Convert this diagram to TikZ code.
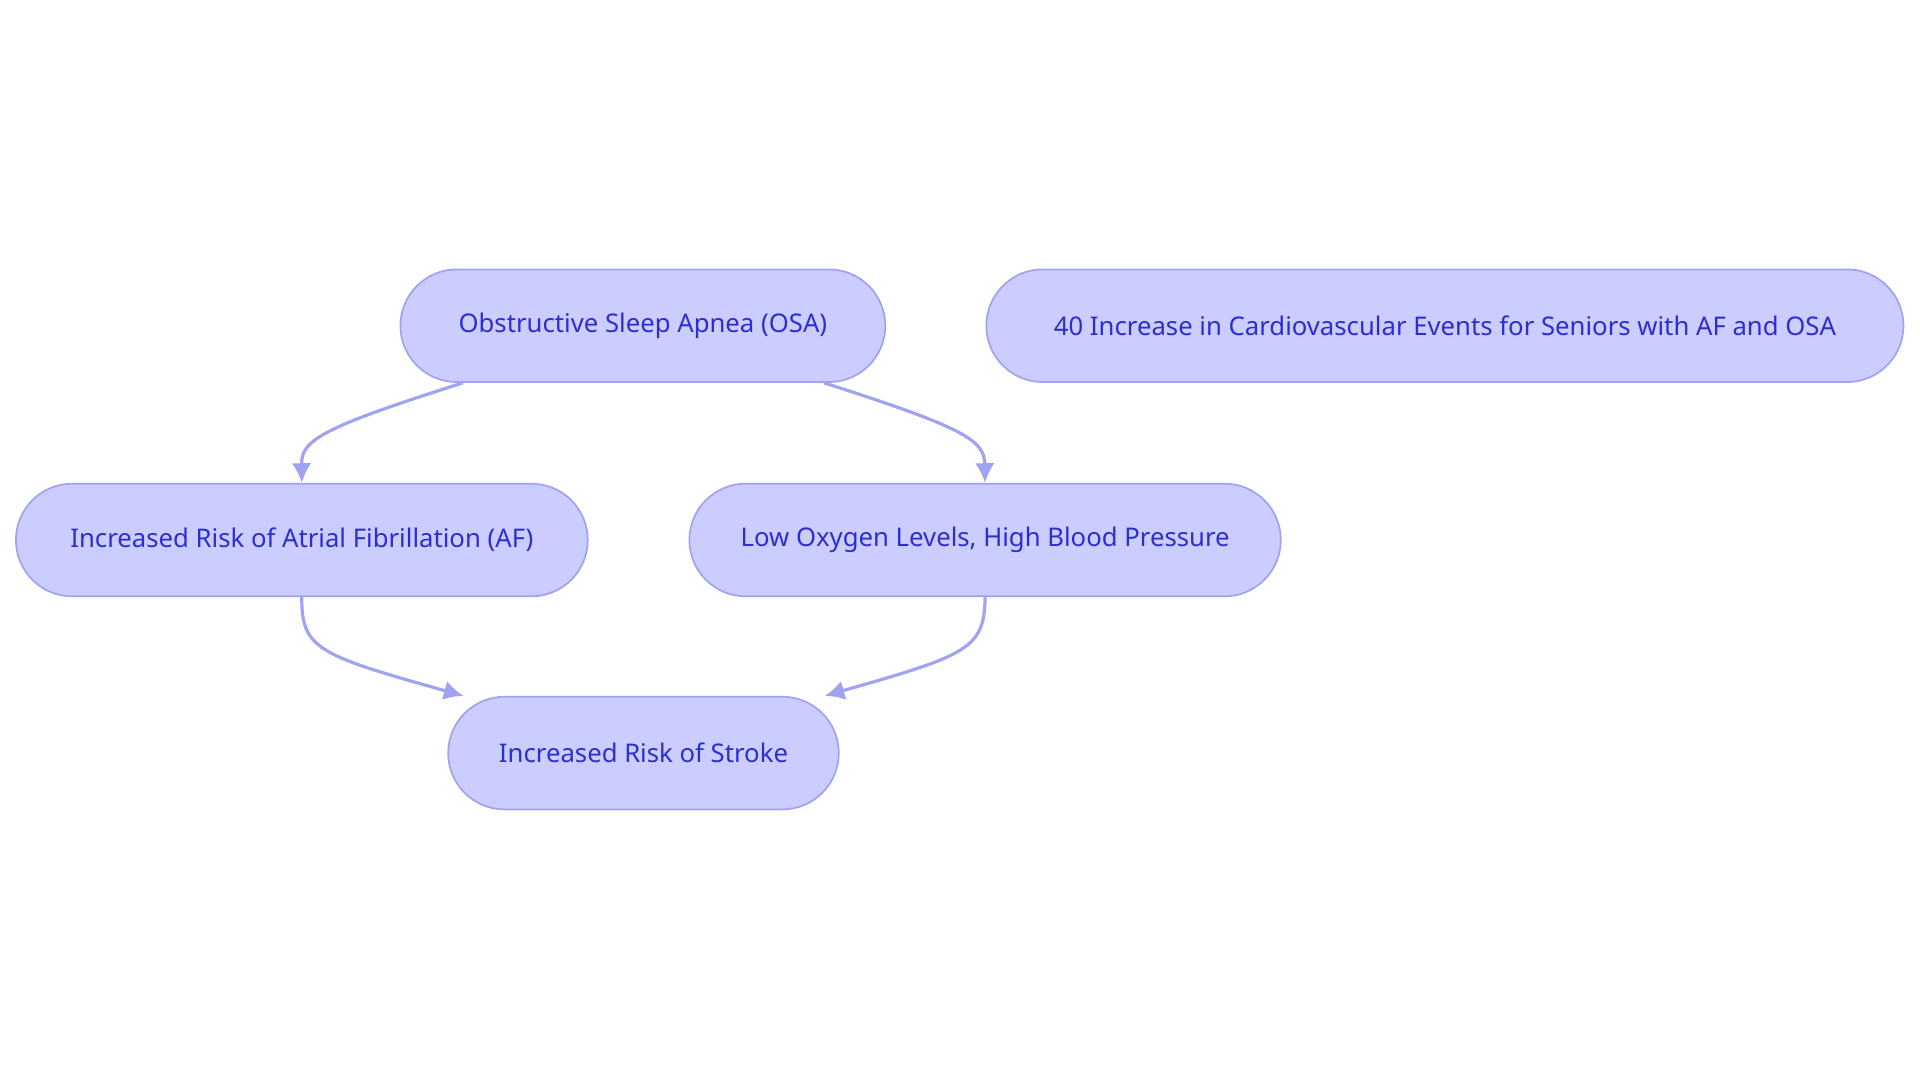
\documentclass[tikz,border=0pt]{standalone}
\usepackage{fontspec}
\setmainfont{Noto Sans}
\usetikzlibrary{calc,arrows.meta}
\definecolor{nfill}{HTML}{CBCCFF}
\definecolor{nline}{HTML}{A0A3F0}
\definecolor{ntext}{HTML}{2B2FCF}
\tikzset{box/.style={draw=nline,fill=nfill,line width=0.7pt,rounded corners=23pt,minimum height=46pt,inner sep=0pt,text=ntext,font=\fontsize{10.5}{12}\selectfont},
conn/.style={draw=nline,line width=1.3pt,-{Latex[length=8pt,width=8pt]}}}
\begin{document}
\begin{tikzpicture}[x=0.5pt,y=-0.5pt]
\useasboundingbox (0,0) rectangle (1568,884);
\node[box,minimum width=198pt] (osa) at (525,266) {Obstructive Sleep Apnea (OSA)};
\node[box,minimum width=374.5pt] (ev) at (1180,266) {40 Increase in Cardiovascular Events for Seniors with AF and OSA};
\node[box,minimum width=233.5pt] (af) at (246.5,441) {Increased Risk of Atrial Fibrillation (AF)};
\node[box,minimum width=241.5pt] (low) at (804.5,441) {Low Oxygen Levels, High Blood Pressure};
\node[box,minimum width=159.5pt] (st) at (525.5,615) {Increased Risk of Stroke};
\draw[conn] ($(osa.south)+(-147,0)$) .. controls (260,350) and (246,360) .. (af.north);
\draw[conn] ($(osa.south)+(148,0)$) .. controls (790,350) and (804,360) .. (low.north);
\draw[conn] (af.south) .. controls (246,530) and (260,535) .. ($(st.north)+(-147,0)$);
\draw[conn] (low.south) .. controls (804,530) and (790,535) .. ($(st.north)+(148,0)$);
\end{tikzpicture}
\end{document}
